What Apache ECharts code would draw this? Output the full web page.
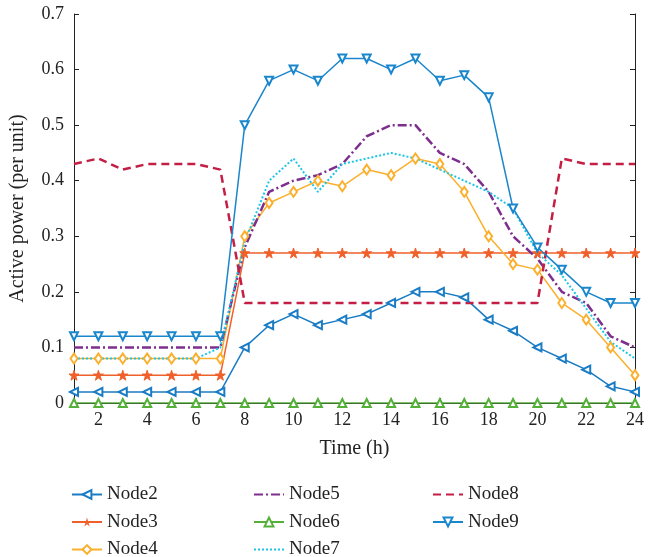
<!DOCTYPE html>
<html><head><meta charset="utf-8">
<script src="https://cdn.jsdelivr.net/npm/echarts@6/dist/echarts.min.js"></script>
<style>html,body{margin:0;padding:0;background:#fff}#c{width:648px;height:557px}</style>
</head><body><div id="c"></div>
<script>
const hours = [1,2,3,4,5,6,7,8,9,10,11,12,13,14,15,16,17,18,19,20,21,22,23,24];
const yTicks = [0,0.1,0.2,0.3,0.4,0.5,0.6,0.7];
const node2 = [0.02,0.02,0.02,0.02,0.02,0.02,0.02,0.10,0.14,0.16,0.14,0.15,0.16,0.18,0.20,0.20,0.19,0.15,0.13,0.10,0.08,0.06,0.03,0.02];
const node3 = [0.05,0.05,0.05,0.05,0.05,0.05,0.05,0.27,0.27,0.27,0.27,0.27,0.27,0.27,0.27,0.27,0.27,0.27,0.27,0.27,0.27,0.27,0.27,0.27];
const node4 = [0.08,0.08,0.08,0.08,0.08,0.08,0.08,0.30,0.36,0.38,0.40,0.39,0.42,0.41,0.44,0.43,0.38,0.30,0.25,0.24,0.18,0.15,0.10,0.05];
const node5 = [0.10,0.10,0.10,0.10,0.10,0.10,0.10,0.28,0.38,0.40,0.41,0.43,0.48,0.50,0.50,0.45,0.43,0.38,0.30,0.26,0.20,0.18,0.12,0.10];
const node6 = [0,0,0,0,0,0,0,0,0,0,0,0,0,0,0,0,0,0,0,0,0,0,0,0];
const node7 = [0.08,0.08,0.08,0.08,0.08,0.08,0.10,0.29,0.40,0.44,0.38,0.43,0.44,0.45,0.44,0.42,0.40,0.38,0.35,0.27,0.23,0.17,0.11,0.08];
const node8 = [0.43,0.44,0.42,0.43,0.43,0.43,0.42,0.18,0.18,0.18,0.18,0.18,0.18,0.18,0.18,0.18,0.18,0.18,0.18,0.18,0.44,0.43,0.43,0.43];
const node9 = [0.12,0.12,0.12,0.12,0.12,0.12,0.12,0.50,0.58,0.60,0.58,0.62,0.62,0.60,0.62,0.58,0.59,0.55,0.35,0.28,0.24,0.20,0.18,0.18];

const FONT = 'Liberation Serif';
const star = 'path://M50,0 L61,35 L98,35 L68,57 L79,91 L50,70 L21,91 L32,57 L2,35 L39,35 Z';

function ser(name, data, color, opts) {
  return Object.assign({
    name: name, type: 'line', data: data, color: color,
    showSymbol: true, symbol: 'none', symbolSize: 8,
    lineStyle: {width: 1.5, color: color},
    itemStyle: {color: color, borderColor: color},
    emphasis: {disabled: true}, animation: false
  }, opts);
}

const series = [
  ser('Node2', node2, '#1a7cc4', {symbol: 'emptyTriangle', symbolRotate: 90}),
  ser('Node3', node3, '#f0602a', {symbol: star, symbolSize: 10}),
  ser('Node4', node4, '#fbb02d', {symbol: 'emptyDiamond', symbolSize: [7, 10]}),
  ser('Node5', node5, '#7e2f8e', {lineStyle: {width: 2.5, color: '#7e2f8e', type: [9, 3, 2, 3]}}),
  ser('Node6', node6, '#55b03a', {symbol: 'emptyTriangle'}),
  ser('Node7', node7, '#1ec6e6', {lineStyle: {width: 2, color: '#1ec6e6', type: [2, 2]}}),
  ser('Node8', node8, '#c41e44', {lineStyle: {width: 2.5, color: '#c41e44', type: [8, 5]}}),
  ser('Node9', node9, '#1a86cc', {symbol: 'emptyTriangle', symbolRotate: 180})
];

const noMarker = ['Node5', 'Node7', 'Node8'];
const txt = {fontFamily: FONT, fontSize: 18, color: '#222'};
function legend(names, left) {
  return {
    data: names.map(n => noMarker.includes(n)
      ? {name: n, itemStyle: {color: 'rgba(0,0,0,0)', borderColor: 'rgba(0,0,0,0)', borderWidth: 0}}
      : {name: n}),
    orient: 'vertical', left: left, top: 480, height: 120,
    itemWidth: 30, itemHeight: 11, itemGap: 8.5,
    textStyle: Object.assign({}, txt, {fontSize: 19}),
    selectedMode: false
  };
}

const chart = echarts.init(document.getElementById('c'), null, {renderer: 'canvas'});
chart.setOption({
  backgroundColor: '#fff',
  animation: false,
  grid: {left: 73, right: 13, top: 14, bottom: 154},
  legend: [
    legend(['Node2', 'Node3', 'Node4'], 66),
    legend(['Node5', 'Node6', 'Node7'], 248),
    legend(['Node8', 'Node9'], 427)
  ],
  xAxis: [{
    type: 'category', data: hours, boundaryGap: false,
    name: 'Time (h)', nameLocation: 'middle', nameGap: 36,
    nameTextStyle: Object.assign({}, txt, {fontSize: 20}),
    axisLine: {lineStyle: {color: '#222', width: 1}},
    axisTick: {inside: true, length: 5, interval: (i) => i % 2 === 1, lineStyle: {color: '#222'}},
    axisLabel: Object.assign({}, txt, {interval: (i) => i % 2 === 1, margin: 8}),
    splitLine: {show: false}
  }, {
    type: 'category', data: hours, boundaryGap: false, position: 'top',
    axisLine: {show: true, lineStyle: {color: '#222', width: 1}},
    axisTick: {inside: true, length: 5, interval: (i) => i % 2 === 1, lineStyle: {color: '#222'}},
    axisLabel: {show: false}, splitLine: {show: false}
  }],
  yAxis: [{
    type: 'value', min: 0, max: 0.7, interval: 0.1,
    name: 'Active power (per unit)', nameLocation: 'middle', nameGap: 46,
    nameTextStyle: Object.assign({}, txt, {fontSize: 20}),
    axisLine: {show: true, lineStyle: {color: '#222', width: 1}},
    axisTick: {show: true, inside: true, length: 5, lineStyle: {color: '#222'}},
    axisLabel: Object.assign({}, txt, {margin: 10, formatter: (v) => String(Math.round(v * 10) / 10)}),
    splitLine: {show: false}
  }, {
    type: 'value', min: 0, max: 0.7, interval: 0.1, position: 'right',
    axisLine: {show: true, lineStyle: {color: '#222', width: 1}},
    axisTick: {show: true, inside: true, length: 5, lineStyle: {color: '#222'}},
    axisLabel: {show: false}, splitLine: {show: false}
  }],
  series: series
});
</script>
</body></html>
